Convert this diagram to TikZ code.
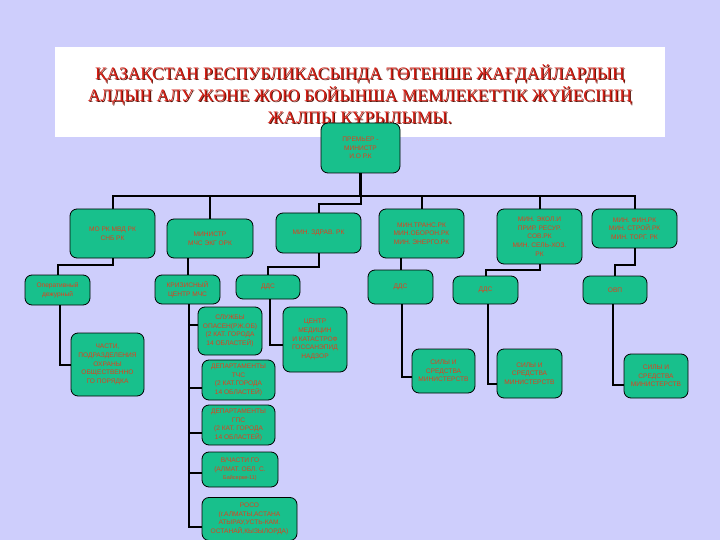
\documentclass[tikz,border=0pt]{standalone}
\usepackage{fontspec}
\setmainfont{Liberation Serif}
\newfontfamily\boxfont{Liberation Sans}
\usetikzlibrary{positioning}
\definecolor{bgblue}{RGB}{206,206,252}
\definecolor{boxgreen}{RGB}{24,192,140}
\definecolor{boxred}{RGB}{226,62,28}
\definecolor{titlered}{RGB}{214,32,22}
\definecolor{titleshade}{RGB}{90,20,10}
\begin{document}
\begin{tikzpicture}[x=1pt,y=-1pt]

\tikzset{unit/.style = {draw=black, line width=0.8pt, fill=boxgreen, rounded corners=7pt,
  align=center, text=boxred, inner sep=1pt, font=\boxfont\fontsize{6.6}{8.6}\selectfont}}
\tikzset{link/.style = {draw=black, line width=2pt}}
\tikzset{heading/.style = {align=center, font=\fontsize{17.5}{22}\selectfont}}
\fill[bgblue] (0,0) rectangle (720,540);
\useasboundingbox (0,0) rectangle (720,540);
%title
\node[fill=white, minimum width=610pt, minimum height=90pt, inner sep=0pt] (titlebox) at (360,92) {};
\node[heading, text=titleshade] (titleshadow) at (361,97) {ҚАЗАҚСТАН РЕСПУБЛИКАСЫНДА ТӨТЕНШЕ ЖАҒДАЙЛАРДЫҢ\\АЛДЫН АЛУ ЖӘНЕ ЖОЮ БОЙЫНША МЕМЛЕКЕТТІК ЖҮЙЕСІНІҢ\\ЖАЛПЫ ҚҰРЫЛЫМЫ.};
\node[heading, text=titlered] (title) at (360,96) {ҚАЗАҚСТАН РЕСПУБЛИКАСЫНДА ТӨТЕНШЕ ЖАҒДАЙЛАРДЫҢ\\АЛДЫН АЛУ ЖӘНЕ ЖОЮ БОЙЫНША МЕМЛЕКЕТТІК ЖҮЙЕСІНІҢ\\ЖАЛПЫ ҚҰРЫЛЫМЫ.};
%links
\coordinate (bus) at (360.5,196);
\coordinate (premierfoot) at (360.5,173);
\draw[link, line width=2.8pt] (premierfoot) -- (bus);
\coordinate (mofoot) at (112.5,209);
\coordinate (finfoot) at (634.5,209);
\draw[link] (mofoot) |- (bus) -| (finfoot);
%boxes
\node[unit, minimum width=79pt, minimum height=50pt] (premier) at (360.5,148) {ПРЕМЬЕР -\\МИНИСТР\\И.О Р.К};
\node[unit, minimum width=85pt, minimum height=49pt] (mo) at (112.5,233.5) {МО РК МВД РК\\СНБ РК};
\node[unit, minimum width=86pt, minimum height=39pt] (mchs) at (210,238.5) {МИНИСТР\\МЧС ЭКГ ОРК};
\node[unit, minimum width=85pt, minimum height=40pt] (zdrav) at (318.5,233) {МИН. ЗДРАВ. РК};
\node[unit, minimum width=85pt, minimum height=49pt] (trans) at (421.5,233.5) {МИН.ТРАНС.РК\\МИН.ОБОРОН.РК\\МИН. ЭНЕРГО.РК};
\node[unit, minimum width=85pt, minimum height=55pt] (ekol) at (539.5,236.5) {МИН. ЭКОЛ.И\\ПРИР. РЕСУР.\\СОВ.РК\\МИН. СЕЛЬ-ХОЗ.\\РК};
\node[unit, minimum width=85pt, minimum height=39pt] (fin) at (634.5,228.5) {МИН. ФИН.РК\\МИН. СТРОЙ.РК\\МИН. ТОРГ. РК};
\node[unit, minimum width=65pt, minimum height=30pt] (oper) at (57.5,290) {Оперативный\\дежурный};
\node[unit, minimum width=65pt, minimum height=29pt] (kriz) at (187.5,289.5) {КРИЗИСНЫЙ\\ЦЕНТР МЧС};
\node[unit, minimum width=64pt, minimum height=24pt] (dds1) at (268,287) {ДДС};
\node[unit, minimum width=65pt, minimum height=34pt] (dds2) at (400.5,287) {ДДС};
\node[unit, minimum width=65pt, minimum height=28pt] (dds3) at (485.5,290) {ДДС};
\node[unit, minimum width=64pt, minimum height=28pt] (ovp) at (615,290) {ОВП};
\node[unit, minimum width=73pt, minimum height=63pt] (chasti) at (107.5,364.5) {ЧАСТИ,\\ПОДРАЗДЕЛЕНИЯ\\ОХРАНЫ\\ОБЩЕСТВЕННО\\ГО ПОРЯДКА};
\node[unit, minimum width=64pt, minimum height=48pt] (sluzhby) at (230,331) {СЛУЖБЫ\\ОПАСЕН(РЖ.ОБ)\\(2 КАТ. ГОРОДА\\14 ОБЛАСТЕЙ)};
\node[unit, minimum width=73pt, minimum height=40pt] (deptchs) at (238.5,380) {ДЕПАРТАМЕНТЫ\\ТЧС\\(2 КАТ.ГОРОДА\\14 ОБЛАСТЕЙ)};
\node[unit, minimum width=64pt, minimum height=65pt] (centr) at (315,339.5) {ЦЕНТР\\МЕДИЦИН\\И КАТАСТРОФ\\ГОССАНЭПИД\\НАДЗОР};
\node[unit, minimum width=73pt, minimum height=40pt] (depgps) at (238.5,425) {ДЕПАРТАМЕНТЫ\\ГПС\\(2 КАТ. ГОРОДА\\14 ОБЛАСТЕЙ)};
\node[unit, minimum width=76pt, minimum height=35pt] (vchasti) at (240,469.5) {В/ЧАСТИ ГО\\(АЛМАТ. ОБЛ. С.\\{\fontsize{5.5}{8}\selectfont Байсерке-11)}};
\node[unit, minimum width=95pt, minimum height=43pt] (roso) at (249.5,519) {РОСО\\(г.АЛМАТЫ,АСТАНА\\АТЫРАУ,УСТЬ-КАМ.\\ОСТАНАЙ,КЫЗЫЛОРДА)};
\node[unit, minimum width=63pt, minimum height=44pt] (sily1) at (443.5,371) {СИЛЫ И\\СРЕДСТВА\\МИНИСТЕРСТВ};
\node[unit, minimum width=65pt, minimum height=49pt] (sily2) at (529.5,373.5) {СИЛЫ И\\СРЕДСТВА\\МИНИСТЕРСТВ};
\node[unit, minimum width=64pt, minimum height=44pt] (sily3) at (656,376) {СИЛЫ И\\СРЕДСТВА\\МИНИСТЕРСТВ};
%links
\draw[link] (mchs.north) -- (mchs.north |- bus);
\draw[link] (trans.north) -- (trans.north |- bus);
\draw[link] (ekol.north) -- (ekol.north |- bus);
\draw[link] (bus) -- ++(0,8) -| (zdrav.north);
\draw[link] (mo.south) -- ++(0,7) -| (oper.north);
\draw[link] (kriz.north) -- (kriz.north |- mchs.south);
\draw[link] (zdrav.south) -- ++(0,14) -| (dds1.north);
\draw[link] (dds2.north) -- (dds2.north |- trans.south);
\draw[link] (ekol.south) -- ++(0,6) -| (dds3.north);
\draw[link] (fin.south) -- ++(0,17) -| (ovp.north);
\draw[link] ([xshift=2pt]oper.south) |- (chasti.west);
\draw[link] ([xshift=1.5pt]kriz.south) |- ([yshift=-8pt]roso.west);
\foreach \n/\s in {sluzhby/6, deptchs/-8, depgps/-8, vchasti/-3}
  \draw[link] ([xshift=1.5pt]kriz.south) |- ([yshift=\s pt]\n.west);
\draw[link] ([xshift=2pt]dds1.south) |- ([yshift=-5pt]centr.west);
\draw[link] ([xshift=1pt]dds2.south) |- ([yshift=-6pt]sily1.west);
\draw[link] ([xshift=2.5pt]dds3.south) |- ([yshift=-10pt]sily2.west);
\draw[link] ([xshift=-2pt]ovp.south) |- ([yshift=-9pt]sily3.west);

\end{tikzpicture}
\end{document}
